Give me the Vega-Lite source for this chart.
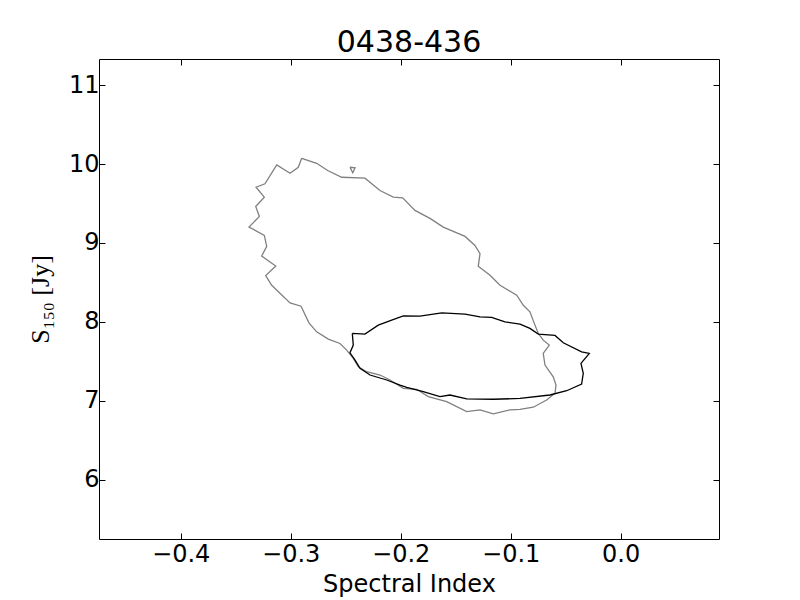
{
  "$schema": "https://vega.github.io/schema/vega-lite/v6.json",
  "width": 620,
  "height": 480,
  "autosize": {"type": "none"},
  "padding": {"left": 99, "top": 59, "right": 81, "bottom": 61},
  "background": "white",
  "config": {
    "view": {"stroke": "black", "strokeWidth": 1},
    "font": "DejaVu Sans",
    "axis": {
      "grid": false,
      "domain": false,
      "tickColor": "black",
      "tickSize": -6,
      "tickWidth": 1,
      "labelColor": "black",
      "labelFont": "DejaVu Sans",
      "labelFontSize": 24,
      "titleFont": "DejaVu Sans",
      "titleFontSize": 24,
      "titleFontWeight": "normal",
      "titleColor": "black"
    }
  },
  "title": {"text": "0438-436", "font": "DejaVu Sans", "fontSize": 30, "fontWeight": "normal", "color": "black", "offset": 1},
  "data": {
    "values": [
      {"id": "g1", "col": "gray", "i": 1, "x": -0.290, "y": 10.072},
      {"id": "g1", "col": "gray", "i": 2, "x": -0.2764, "y": 10.009},
      {"id": "g1", "col": "gray", "i": 3, "x": -0.2664, "y": 9.917},
      {"id": "g1", "col": "gray", "i": 4, "x": -0.2536, "y": 9.832},
      {"id": "g1", "col": "gray", "i": 5, "x": -0.2325, "y": 9.820},
      {"id": "g1", "col": "gray", "i": 6, "x": -0.2188, "y": 9.664},
      {"id": "g1", "col": "gray", "i": 7, "x": -0.2067, "y": 9.580},
      {"id": "g1", "col": "gray", "i": 8, "x": -0.1982, "y": 9.572},
      {"id": "g1", "col": "gray", "i": 9, "x": -0.1870, "y": 9.412},
      {"id": "g1", "col": "gray", "i": 10, "x": -0.1734, "y": 9.311},
      {"id": "g1", "col": "gray", "i": 11, "x": -0.1613, "y": 9.201},
      {"id": "g1", "col": "gray", "i": 12, "x": -0.1415, "y": 9.083},
      {"id": "g1", "col": "gray", "i": 13, "x": -0.1325, "y": 8.969},
      {"id": "g1", "col": "gray", "i": 14, "x": -0.1279, "y": 8.865},
      {"id": "g1", "col": "gray", "i": 15, "x": -0.1295, "y": 8.704},
      {"id": "g1", "col": "gray", "i": 16, "x": -0.1188, "y": 8.590},
      {"id": "g1", "col": "gray", "i": 17, "x": -0.1097, "y": 8.464},
      {"id": "g1", "col": "gray", "i": 18, "x": -0.0945, "y": 8.338},
      {"id": "g1", "col": "gray", "i": 19, "x": -0.0885, "y": 8.211},
      {"id": "g1", "col": "gray", "i": 20, "x": -0.0825, "y": 8.127},
      {"id": "g1", "col": "gray", "i": 21, "x": -0.0779, "y": 7.959},
      {"id": "g1", "col": "gray", "i": 22, "x": -0.0749, "y": 7.854},
      {"id": "g1", "col": "gray", "i": 23, "x": -0.0704, "y": 7.769},
      {"id": "g1", "col": "gray", "i": 24, "x": -0.0649, "y": 7.706},
      {"id": "g1", "col": "gray", "i": 25, "x": -0.0704, "y": 7.601},
      {"id": "g1", "col": "gray", "i": 26, "x": -0.0688, "y": 7.453},
      {"id": "g1", "col": "gray", "i": 27, "x": -0.0613, "y": 7.305},
      {"id": "g1", "col": "gray", "i": 28, "x": -0.0588, "y": 7.200},
      {"id": "g1", "col": "gray", "i": 29, "x": -0.0597, "y": 7.096},
      {"id": "g1", "col": "gray", "i": 30, "x": -0.0673, "y": 7.011},
      {"id": "g1", "col": "gray", "i": 31, "x": -0.0795, "y": 6.919},
      {"id": "g1", "col": "gray", "i": 32, "x": -0.0915, "y": 6.893},
      {"id": "g1", "col": "gray", "i": 33, "x": -0.1006, "y": 6.885},
      {"id": "g1", "col": "gray", "i": 34, "x": -0.1158, "y": 6.834},
      {"id": "g1", "col": "gray", "i": 35, "x": -0.1279, "y": 6.885},
      {"id": "g1", "col": "gray", "i": 36, "x": -0.1400, "y": 6.863},
      {"id": "g1", "col": "gray", "i": 37, "x": -0.1582, "y": 6.989},
      {"id": "g1", "col": "gray", "i": 38, "x": -0.1749, "y": 7.053},
      {"id": "g1", "col": "gray", "i": 39, "x": -0.1855, "y": 7.146},
      {"id": "g1", "col": "gray", "i": 40, "x": -0.1976, "y": 7.159},
      {"id": "g1", "col": "gray", "i": 41, "x": -0.2097, "y": 7.264},
      {"id": "g1", "col": "gray", "i": 42, "x": -0.2188, "y": 7.327},
      {"id": "g1", "col": "gray", "i": 43, "x": -0.2309, "y": 7.369},
      {"id": "g1", "col": "gray", "i": 44, "x": -0.2385, "y": 7.432},
      {"id": "g1", "col": "gray", "i": 45, "x": -0.2431, "y": 7.538},
      {"id": "g1", "col": "gray", "i": 46, "x": -0.2491, "y": 7.643},
      {"id": "g1", "col": "gray", "i": 47, "x": -0.2552, "y": 7.727},
      {"id": "g1", "col": "gray", "i": 48, "x": -0.2658, "y": 7.782},
      {"id": "g1", "col": "gray", "i": 49, "x": -0.2764, "y": 7.874},
      {"id": "g1", "col": "gray", "i": 50, "x": -0.2834, "y": 7.988},
      {"id": "g1", "col": "gray", "i": 51, "x": -0.2906, "y": 8.199},
      {"id": "g1", "col": "gray", "i": 52, "x": -0.3006, "y": 8.240},
      {"id": "g1", "col": "gray", "i": 53, "x": -0.3173, "y": 8.464},
      {"id": "g1", "col": "gray", "i": 54, "x": -0.3227, "y": 8.587},
      {"id": "g1", "col": "gray", "i": 55, "x": -0.3136, "y": 8.708},
      {"id": "g1", "col": "gray", "i": 56, "x": -0.3264, "y": 8.834},
      {"id": "g1", "col": "gray", "i": 57, "x": -0.3218, "y": 8.957},
      {"id": "g1", "col": "gray", "i": 58, "x": -0.3240, "y": 9.096},
      {"id": "g1", "col": "gray", "i": 59, "x": -0.3379, "y": 9.201},
      {"id": "g1", "col": "gray", "i": 60, "x": -0.3285, "y": 9.336},
      {"id": "g1", "col": "gray", "i": 61, "x": -0.3318, "y": 9.462},
      {"id": "g1", "col": "gray", "i": 62, "x": -0.3240, "y": 9.580},
      {"id": "g1", "col": "gray", "i": 63, "x": -0.3315, "y": 9.706},
      {"id": "g1", "col": "gray", "i": 64, "x": -0.3234, "y": 9.749},
      {"id": "g1", "col": "gray", "i": 65, "x": -0.3127, "y": 9.989},
      {"id": "g1", "col": "gray", "i": 66, "x": -0.3006, "y": 9.883},
      {"id": "g1", "col": "gray", "i": 67, "x": -0.2931, "y": 9.959},
      {"id": "g1", "col": "gray", "i": 68, "x": -0.290, "y": 10.072},
      {"id": "g2", "col": "gray", "i": 1, "x": -0.2461, "y": 9.959},
      {"id": "g2", "col": "gray", "i": 2, "x": -0.2415, "y": 9.951},
      {"id": "g2", "col": "gray", "i": 3, "x": -0.2436, "y": 9.888},
      {"id": "g2", "col": "gray", "i": 4, "x": -0.2461, "y": 9.959},
      {"id": "b1", "col": "black", "i": 1, "x": -0.2440, "y": 7.854},
      {"id": "b1", "col": "black", "i": 2, "x": -0.2325, "y": 7.845},
      {"id": "b1", "col": "black", "i": 3, "x": -0.2204, "y": 7.959},
      {"id": "b1", "col": "black", "i": 4, "x": -0.2082, "y": 8.022},
      {"id": "b1", "col": "black", "i": 5, "x": -0.1976, "y": 8.076},
      {"id": "b1", "col": "black", "i": 6, "x": -0.1825, "y": 8.072},
      {"id": "b1", "col": "black", "i": 7, "x": -0.1627, "y": 8.114},
      {"id": "b1", "col": "black", "i": 8, "x": -0.1415, "y": 8.098},
      {"id": "b1", "col": "black", "i": 9, "x": -0.1279, "y": 8.063},
      {"id": "b1", "col": "black", "i": 10, "x": -0.1173, "y": 8.056},
      {"id": "b1", "col": "black", "i": 11, "x": -0.1052, "y": 8.000},
      {"id": "b1", "col": "black", "i": 12, "x": -0.0915, "y": 7.971},
      {"id": "b1", "col": "black", "i": 13, "x": -0.0825, "y": 7.917},
      {"id": "b1", "col": "black", "i": 14, "x": -0.0749, "y": 7.845},
      {"id": "b1", "col": "black", "i": 15, "x": -0.0597, "y": 7.828},
      {"id": "b1", "col": "black", "i": 16, "x": -0.0522, "y": 7.735},
      {"id": "b1", "col": "black", "i": 17, "x": -0.0355, "y": 7.621},
      {"id": "b1", "col": "black", "i": 18, "x": -0.0285, "y": 7.601},
      {"id": "b1", "col": "black", "i": 19, "x": -0.0361, "y": 7.475},
      {"id": "b1", "col": "black", "i": 20, "x": -0.0340, "y": 7.348},
      {"id": "b1", "col": "black", "i": 21, "x": -0.0355, "y": 7.213},
      {"id": "b1", "col": "black", "i": 22, "x": -0.0491, "y": 7.128},
      {"id": "b1", "col": "black", "i": 23, "x": -0.0643, "y": 7.074},
      {"id": "b1", "col": "black", "i": 24, "x": -0.0915, "y": 7.030},
      {"id": "b1", "col": "black", "i": 25, "x": -0.1158, "y": 7.020},
      {"id": "b1", "col": "black", "i": 26, "x": -0.1400, "y": 7.024},
      {"id": "b1", "col": "black", "i": 27, "x": -0.1552, "y": 7.074},
      {"id": "b1", "col": "black", "i": 28, "x": -0.1643, "y": 7.053},
      {"id": "b1", "col": "black", "i": 29, "x": -0.1795, "y": 7.116},
      {"id": "b1", "col": "black", "i": 30, "x": -0.1945, "y": 7.171},
      {"id": "b1", "col": "black", "i": 31, "x": -0.2006, "y": 7.200},
      {"id": "b1", "col": "black", "i": 32, "x": -0.2127, "y": 7.264},
      {"id": "b1", "col": "black", "i": 33, "x": -0.2279, "y": 7.327},
      {"id": "b1", "col": "black", "i": 34, "x": -0.2370, "y": 7.411},
      {"id": "b1", "col": "black", "i": 35, "x": -0.2415, "y": 7.516},
      {"id": "b1", "col": "black", "i": 36, "x": -0.2461, "y": 7.609},
      {"id": "b1", "col": "black", "i": 37, "x": -0.2431, "y": 7.706},
      {"id": "b1", "col": "black", "i": 38, "x": -0.2440, "y": 7.854}
    ]
  },
  "layer": [
    {
      "mark": {"type": "line", "strokeWidth": 1.3, "clip": true},
      "encoding": {
        "x": {
          "field": "x", "type": "quantitative",
          "scale": {"domain": [-0.4743, 0.0894], "nice": false, "zero": false},
          "axis": {"orient": "bottom", "values": [-0.4, -0.3, -0.2, -0.1, 0.0], "format": ".1f", "title": "Spectral Index", "labelPadding": 9, "titlePadding": 6}
        },
        "y": {
          "field": "y", "type": "quantitative",
          "scale": {"domain": [5.25, 11.33], "nice": false, "zero": false},
          "axis": {"orient": "left", "values": [6, 7, 8, 9, 10, 11], "format": "d", "title": "S₁₅₀ [Jy]", "titleFont": "Liberation Serif", "titleFontSize": 26, "labelPadding": 6, "titlePadding": 15}
        },
        "detail": {"field": "id"},
        "order": {"field": "i", "type": "quantitative"},
        "color": {"field": "col", "type": "nominal", "scale": {"domain": ["gray", "black"], "range": ["#808080", "#000000"]}, "legend": null}
      }
    },
    {
      "mark": {"type": "line", "opacity": 0},
      "encoding": {
        "x": {"field": "x", "type": "quantitative", "axis": {"orient": "top", "values": [-0.4, -0.3, -0.2, -0.1, 0.0], "labels": false, "title": null}},
        "y": {"field": "y", "type": "quantitative", "axis": {"orient": "right", "values": [6, 7, 8, 9, 10, 11], "labels": false, "title": null}},
        "detail": {"field": "id"},
        "order": {"field": "i", "type": "quantitative"}
      }
    }
  ]
}
